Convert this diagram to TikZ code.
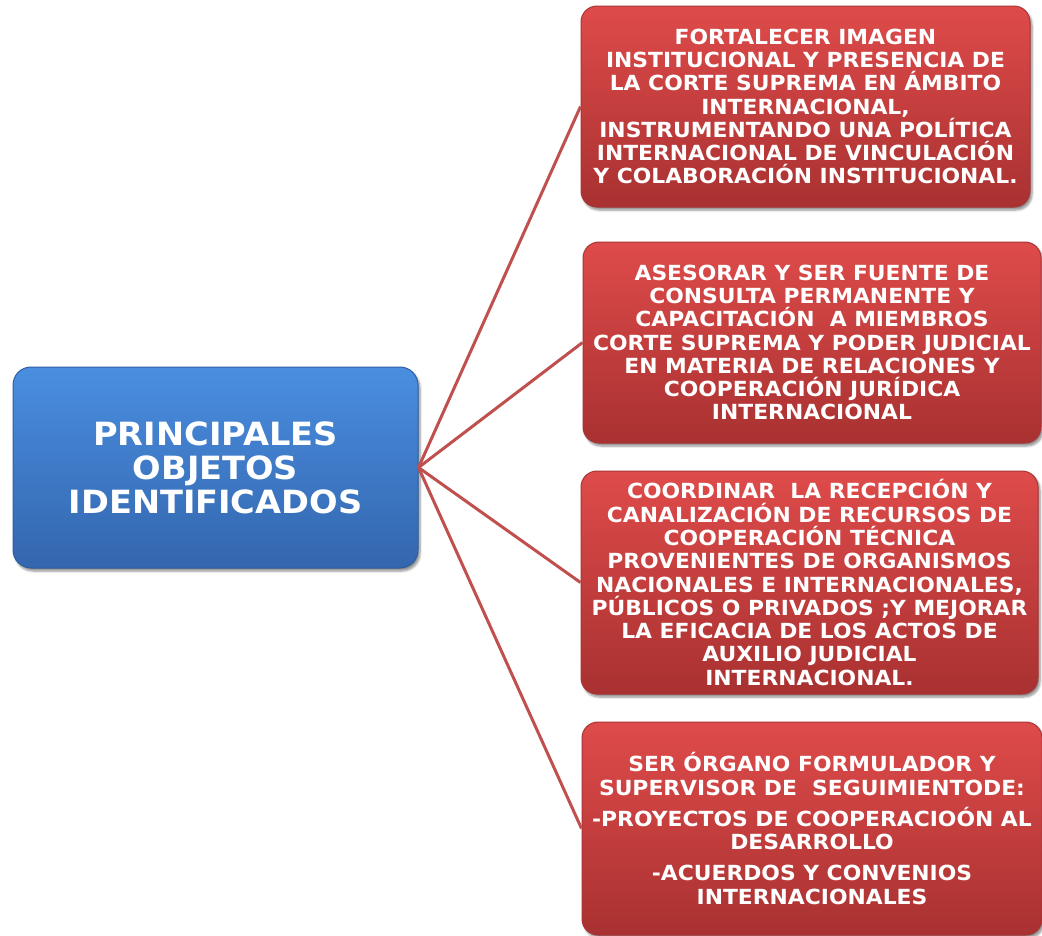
\documentclass[tikz,border=0pt]{standalone}
\usepackage{fontspec}
\setmainfont{DejaVu Sans}
\newfontfamily\wideface[FakeStretch=1.05]{DejaVu Sans}
\usetikzlibrary{shadows.blur}
\definecolor{redtop}{HTML}{DE4B4A}
\definecolor{redbot}{HTML}{A93131}
\definecolor{redline}{HTML}{A83434}
\definecolor{bluetop}{HTML}{4A8EE0}
\definecolor{bluebot}{HTML}{3366AE}
\definecolor{blueline}{HTML}{2F5E9E}
\definecolor{linkcol}{HTML}{C0504D}
\tikzset{
  objbox/.style={rectangle, rounded corners=16pt, draw=redline, line width=1pt,
    top color=redtop, bottom color=redbot, text=white, align=center,
    font=\wideface\fontsize{20.8}{23.3}\selectfont\bfseries, inner sep=0pt,
    blur shadow={shadow xshift=2pt, shadow yshift=-3pt, shadow blur steps=6, shadow opacity=45}},
  mainbox/.style={rectangle, rounded corners=18pt, draw=blueline, line width=1pt,
    top color=bluetop, bottom color=bluebot, text=white, align=center,
    font=\wideface\fontsize{32}{34}\selectfont\bfseries, inner sep=0pt,
    blur shadow={shadow xshift=2pt, shadow yshift=-3pt, shadow blur steps=6, shadow opacity=45}},
  link/.style={draw=linkcol, line width=3pt}
}
\begin{document}
\begin{tikzpicture}[x=1pt,y=1pt]
\useasboundingbox (0,0) rectangle (1042,-935);
\node[mainbox, minimum width=405pt, minimum height=201pt] (main) at (215.5,-467.5)
  {PRINCIPALES\\OBJETOS\\IDENTIFICADOS};
\node[objbox, minimum width=449pt, minimum height=201pt] (o1) at (805.5,-106.5)
  {FORTALECER IMAGEN\\INSTITUCIONAL Y PRESENCIA DE\\LA CORTE SUPREMA EN ÁMBITO\\INTERNACIONAL,\\INSTRUMENTANDO UNA POLÍTICA\\INTERNACIONAL DE VINCULACIÓN\\Y COLABORACIÓN INSTITUCIONAL.};
\node[objbox, minimum width=458pt, minimum height=201pt] (o2) at (812,-342.5)
  {ASESORAR Y SER FUENTE DE\\CONSULTA PERMANENTE Y\\CAPACITACIÓN\ \ A MIEMBROS\\CORTE SUPREMA Y PODER JUDICIAL\\EN MATERIA DE RELACIONES Y\\COOPERACIÓN JURÍDICA\\INTERNACIONAL};
\node[objbox, minimum width=457pt, minimum height=223pt] (o3) at (809.5,-582.5)
  {COORDINAR\ \ LA RECEPCIÓN Y\\CANALIZACIÓN DE RECURSOS DE\\COOPERACIÓN TÉCNICA\\PROVENIENTES DE ORGANISMOS\\NACIONALES E INTERNACIONALES,\\PÚBLICOS O PRIVADOS ;Y MEJORAR\\LA EFICACIA DE LOS ACTOS DE\\AUXILIO JUDICIAL\\INTERNACIONAL.};
\node[objbox, minimum width=460pt, minimum height=213pt] (o4) at (812,-828.5)
  {SER ÓRGANO FORMULADOR Y\\SUPERVISOR DE\ \ SEGUIMIENTODE:\\[8pt]-PROYECTOS DE COOPERACIOÓN AL\\DESARROLLO\\[8pt]-ACUERDOS Y CONVENIOS\\INTERNACIONALES};
\draw[link] (main.east) -- (o1.west);
\draw[link] (main.east) -- (o2.west);
\draw[link] (main.east) -- (o3.west);
\draw[link] (main.east) -- (o4.west);
\end{tikzpicture}
\end{document}
